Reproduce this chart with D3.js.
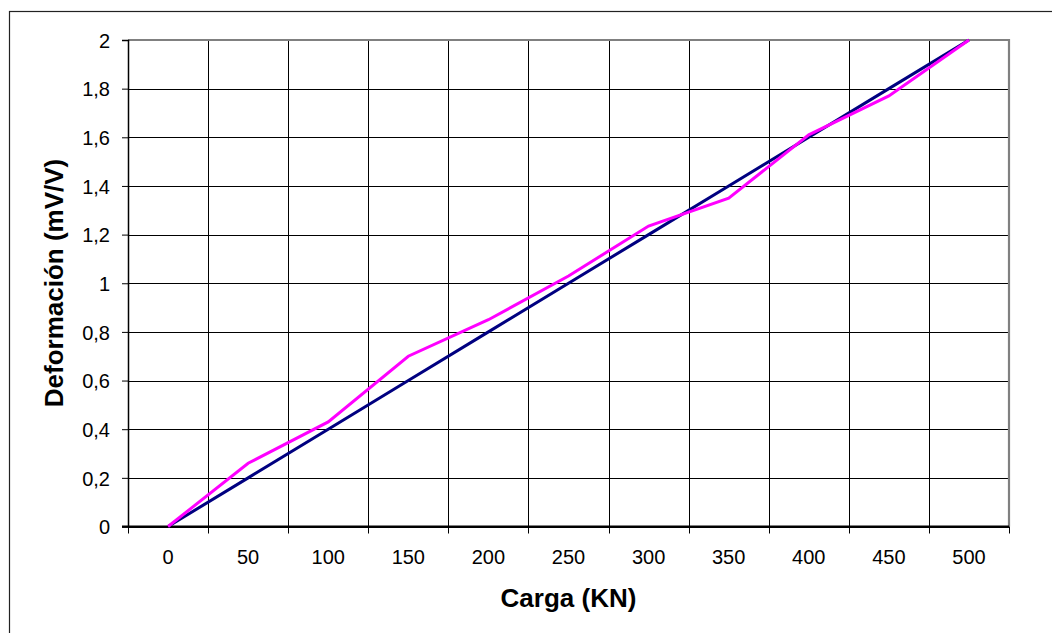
<!DOCTYPE html>
<html><head><meta charset="utf-8">
<script src="https://cdn.jsdelivr.net/npm/d3@7"></script>
<style>body{margin:0;background:#fff}svg{display:block}</style>
</head><body>
<svg id="c" width="1052" height="633"></svg>
<script>
const categories = [0,50,100,150,200,250,300,350,400,450,500];
const medida = [0,0.26,0.43,0.70,0.85,1.03,1.235,1.35,1.61,1.77,2.0];
const teorica = [0,0.2,0.4,0.6,0.8,1.0,1.2,1.4,1.6,1.8,2.0];
const yTicks = [0,0.2,0.4,0.6,0.8,1.0,1.2,1.4,1.6,1.8,2.0];

const svg = d3.select("#c");
const L=128, R=1009, T=40, B=526.5;
const x = d3.scaleBand().domain(categories).range([L,R]).padding(0);
const y = d3.scaleLinear().domain([0,2]).range([B,T]);
const fmt = v => String(v).replace(".", ",");
const font = "Liberation Sans, Arial, sans-serif";

// outer frame
svg.append("rect").attr("x",9.5).attr("y",11.5).attr("width",1100).attr("height",700)
  .attr("fill","none").attr("stroke","#222").attr("stroke-width",1.2);

// gridlines horizontal
svg.append("g").selectAll("line").data(yTicks).join("line")
  .attr("x1",L).attr("x2",R).attr("y1",d=>Math.round(y(d))+0.5).attr("y2",d=>Math.round(y(d))+0.5)
  .attr("stroke","#000").attr("stroke-width",1);
// gridlines vertical at boundaries
const bounds = categories.map(c=>x(c)).concat([R]);
svg.append("g").selectAll("line").data(bounds.slice(1,-1)).join("line")
  .attr("x1",d=>Math.round(d)+0.5).attr("x2",d=>Math.round(d)+0.5).attr("y1",T).attr("y2",B)
  .attr("stroke","#000").attr("stroke-width",1);

// plot border top/right gray
svg.append("path").attr("d",`M${L},${T} H${R} V${B}`).attr("fill","none")
  .attr("stroke","#808080").attr("stroke-width",2.2);

// y axis
const yAxis = d3.axisLeft(y).tickValues(yTicks).tickFormat(fmt).tickSize(6).tickPadding(12);
const ga = svg.append("g").attr("transform",`translate(${L},0)`).call(yAxis);
ga.select(".domain").attr("stroke","#000").attr("stroke-width",1.5);
ga.selectAll(".tick line").attr("stroke","#000");
ga.selectAll("text").attr("font-family",font).attr("font-size",20).attr("fill","#000").attr("dy","0.36em");

// x axis
const xb = svg.append("g");
xb.append("line").attr("x1",L-6).attr("x2",R).attr("y1",B).attr("y2",B).attr("stroke","#000").attr("stroke-width",2);
xb.selectAll("line.t").data(bounds).join("line").attr("class","t")
  .attr("x1",d=>Math.round(d)+0.5).attr("x2",d=>Math.round(d)+0.5).attr("y1",B).attr("y2",B+7).attr("stroke","#000");
xb.selectAll("text").data(categories).join("text")
  .attr("x",d=>x(d)+x.bandwidth()/2).attr("y",564).attr("text-anchor","middle")
  .attr("font-family",font).attr("font-size",20).attr("fill","#000").text(d=>d);

// lines
const cx = (d,i)=>x(categories[i])+x.bandwidth()/2;
const line = d3.line().x(cx).y(d=>y(d));
svg.append("path").datum(teorica).attr("d",line).attr("fill","none").attr("stroke","#000080").attr("stroke-width",3);
svg.append("path").datum(medida).attr("d",line).attr("fill","none").attr("stroke","#FF00FF").attr("stroke-width",3);

// titles
svg.append("text").attr("x",(L+R)/2).attr("y",607).attr("text-anchor","middle")
  .attr("font-family",font).attr("font-weight","bold").attr("font-size",26).text("Carga (KN)");
svg.append("text").attr("transform","translate(63,283) rotate(-90)").attr("text-anchor","middle")
  .attr("font-family",font).attr("font-weight","bold").attr("font-size",26).text("Deformación (mV/V)");
</script>
</body></html>
